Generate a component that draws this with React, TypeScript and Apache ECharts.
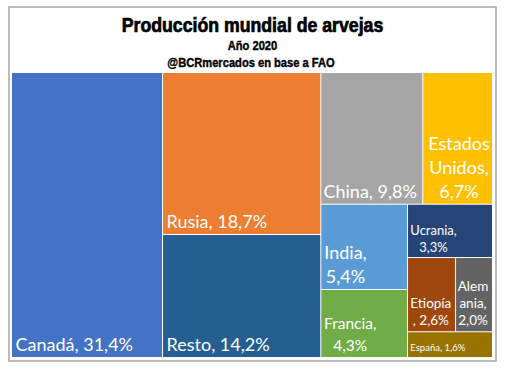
import React, { useEffect, useRef } from "react";
import * as echarts from "echarts";

const titleText = "Producción mundial de arvejas";
const subtitleLines = ["Año 2020", "@BCRmercados en base a FAO"];

const countries = [
  "Canadá",
  "Rusia",
  "Resto",
  "China",
  "Estados Unidos",
  "India",
  "Francia",
  "Ucrania",
  "Etiopía",
  "Alemania",
  "España",
];
const shares = [31.4, 18.7, 14.2, 9.8, 6.7, 5.4, 4.3, 3.3, 2.6, 2.0, 1.6];
const colors = [
  "#4472C4",
  "#ED7D31",
  "#255E91",
  "#A5A5A5",
  "#FFC000",
  "#5B9BD5",
  "#70AD47",
  "#264478",
  "#9E480E",
  "#636363",
  "#997300",
];
// character positions where the label text wraps to a new line
const labelBreaks: number[][] = [[], [], [], [], [7, 15], [6], [8], [8], [7], [4, 9], []];
const labelSizes = [18, 18, 18, 18, 18, 18, 15.5, 13, 13.5, 13.5, 9.5];
const labelLineHeights = [22, 22, 22, 22, 24, 24, 22, 17, 17, 17, 12];
const labelGaps = [13, 13, 13, 13, 12.5, 13, 11.7, 10.3, 11, 11, 9.5];
const labelPads = [3.5, 3.5, 3.5, 2.2, 5, 3, 2.8, 2.3, 2.3, 1.7, 2.3];

const LABEL_FONT = "Lato";
const TITLE_FONT = "'Liberation Sans', Arial, sans-serif";

function wrapText(text: string, breaks: number[]): string[] {
  const pts = [0, ...breaks, text.length];
  return pts.slice(0, -1).map((p, i) => text.slice(p, pts[i + 1]).trim());
}

let measureCtx: CanvasRenderingContext2D | null = null;
function measure(text: string, size: number): number {
  if (!measureCtx) {
    measureCtx = document.createElement("canvas").getContext("2d");
  }
  if (!measureCtx) return text.length * size * 0.5;
  measureCtx.font = `${size}px ${LABEL_FONT}`;
  return measureCtx.measureText(text).width;
}

function buildData() {
  return countries.map((name, i) => {
    const pct = shares[i].toFixed(1).replace(".", ",") + "%";
    const lines = wrapText(`${name}, ${pct}`, labelBreaks[i]);
    const text = lines.join("\n");
    const maxW = Math.max(...lines.map((l) => measure(l, labelSizes[i])));
    const lh = labelLineHeights[i];
    return {
      name,
      value: shares[i],
      itemStyle: { color: colors[i] },
      label: {
        show: true,
        position: "insideBottomLeft",
        distance: 0,
        padding: 0,
        align: "center",
        verticalAlign: "bottom",
        offset: [labelPads[i] + maxW / 2, -(labelGaps[i] - lh / 2)],
        formatter: () => text,
        fontSize: labelSizes[i],
        lineHeight: lh,
        fontFamily: LABEL_FONT,
        color: "#ffffff",
        overflow: "none",
      },
    };
  });
}

function titleElement(text: string, x: number, y: number, size: number) {
  return {
    type: "text",
    x,
    y,
    scaleX: 0.885,
    style: {
      text,
      x: 0,
      y: 0,
      textAlign: "center",
      textVerticalAlign: "middle",
      fontFamily: TITLE_FONT,
      fontWeight: "bold",
      fontSize: size,
      fill: "#000000",
      stroke: "#000000",
      lineWidth: size > 15 ? 0.7 : 0.4,
    },
  };
}

export default function App() {
  const ref = useRef<HTMLDivElement>(null);

  useEffect(() => {
    if (!ref.current) return;
    const chart = echarts.init(ref.current, undefined, { renderer: "svg" });
    chart.setOption({
      animation: false,
      backgroundColor: "#ffffff",
      graphic: [
        {
          type: "rect",
          shape: { x: 9, y: 7, width: 487, height: 354 },
          style: { fill: "none", stroke: "#A6A6A6", lineWidth: 1.5 },
          z: -1,
        },
        titleElement(titleText, 252.5, 25.5, 20),
        titleElement(subtitleLines[0], 252.5, 45.5, 12.6),
        titleElement(subtitleLines[1], 251, 62.5, 12.6),
      ],
      tooltip: { show: false },
      series: [
        {
          type: "treemap",
          left: 12,
          top: 73,
          width: 480,
          height: 284,
          roam: false,
          nodeClick: false,
          squareRatio: 1,
          breadcrumb: { show: false },
          itemStyle: { borderWidth: 0, gapWidth: 1, borderColor: "#ffffff" },
          emphasis: { disabled: true },
          data: buildData(),
        },
      ],
    });
    return () => chart.dispose();
  }, []);

  return (
    <div
      ref={ref}
      style={{ position: "absolute", left: 0, top: 0, width: 509, height: 369 }}
    />
  );
}
